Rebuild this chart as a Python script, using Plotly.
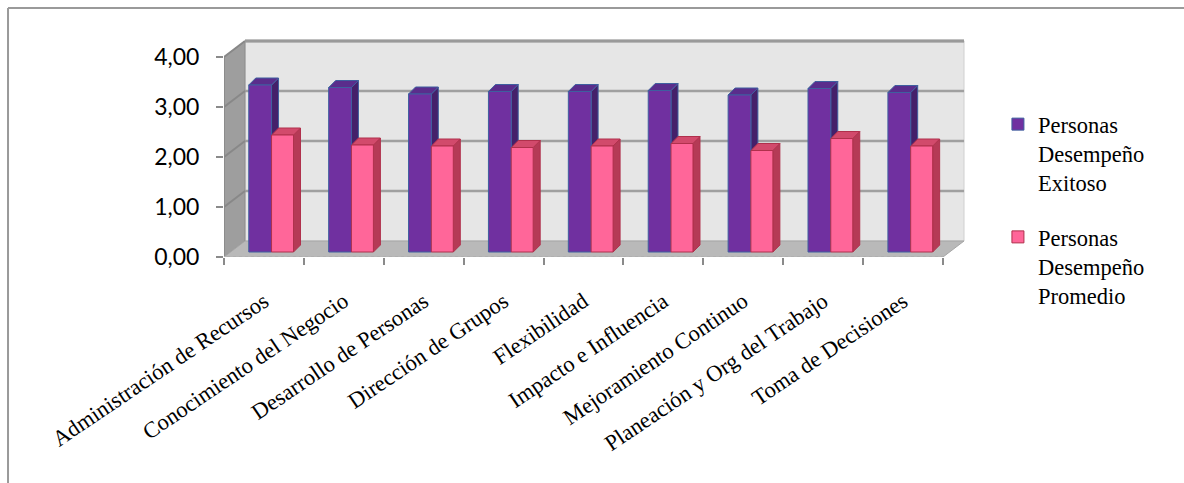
import plotly.graph_objects as go

categories = ["Administración de Recursos", "Conocimiento del Negocio", "Desarrollo de Personas",
              "Dirección de Grupos", "Flexibilidad", "Impacto e Influencia",
              "Mejoramiento Continuo", "Planeación y Org del Trabajo", "Toma de Decisiones"]
exitoso = [3.34, 3.29, 3.16, 3.21, 3.21, 3.23, 3.14, 3.27, 3.19]
promedio = [2.34, 2.14, 2.12, 2.09, 2.12, 2.17, 2.03, 2.27, 2.12]
series_names = ["Personas<br>Desempeño<br>Exitoso", "Personas<br>Desempeño<br>Promedio"]

# styling / geometry (not data)
PX_X = 79.9   # px per category
PX_Y = 50.0   # px per unit
L, B = 224, 226
YMAX = 4.4
XMAX = 8.8
W_PLOT = (XMAX + 0.5) * PX_X
H_PLOT = YMAX * PX_Y
WALL_DX = 21 / PX_X
WALL_DY = 16 / PX_Y
BAR_DX = 7 / PX_X
BAR_DY = 7 / PX_Y
BASE = 5 / PX_Y
SERIF = "Liberation Serif"

x = list(range(len(categories)))

purple = dict(front="#7030A0", line="#3F5F9F", side="#45206A", top="#5A2D8C")
pink = dict(front="#FF6699", line="#B0304C", side="#B53A56", top="#D24A6C")

fig = go.Figure()
specs = [(exitoso, series_names[0], purple, -0.19, 0.285), (promedio, series_names[1], pink, 0.095, 0.275)]
for i, (vals, name, col, off, wid) in enumerate(specs):
    fig.add_trace(go.Bar(
        x=x, y=vals, base=[BASE] * len(vals), name=name, offset=off, width=wid,
        marker=dict(color=col["front"], line=dict(color=col["line"], width=1)),
        legendgroup=f"g{i}", hoverinfo="skip"))

shapes = []
# back wall
x0w, x1w = -0.5 + WALL_DX, len(categories) - 0.5 + WALL_DX
shapes.append(dict(type="rect", xref="x", yref="y", x0=x0w, x1=x1w, y0=WALL_DY, y1=4 + WALL_DY,
                   fillcolor="#E6E6E6", line=dict(color="#D0D0D0", width=1), layer="below"))
# left side wall
shapes.append(dict(type="path", xref="x", yref="y",
                   path=f"M -0.5,0 L {x0w},{WALL_DY} L {x0w},{4 + WALL_DY} L -0.5,4 Z",
                   fillcolor="#9E9E9E", line=dict(color="#8C8C8C", width=1), layer="below"))
# floor
xe = len(categories) - 0.5
shapes.append(dict(type="path", xref="x", yref="y",
                   path=f"M -0.5,0 L {xe},0 L {x1w},{WALL_DY} L {x0w},{WALL_DY} Z",
                   fillcolor="#B9B9B9", line=dict(color="#A5A5A5", width=1), layer="below"))
# gridlines on wall + side
for k in range(1, 5):
    shapes.append(dict(type="line", xref="x", yref="y", x0=x0w, x1=x1w, y0=k + WALL_DY, y1=k + WALL_DY,
                       line=dict(color="#A0A0A0", width=2.5), layer="below"))
    shapes.append(dict(type="line", xref="x", yref="y", x0=-0.5, x1=x0w, y0=k, y1=k + WALL_DY,
                       line=dict(color="#888888", width=2), layer="below"))
# wall top edge
shapes.append(dict(type="line", xref="x", yref="y", x0=x0w, x1=x1w, y0=4 + WALL_DY, y1=4 + WALL_DY,
                   line=dict(color="#9A9A9A", width=3), layer="below"))
# front edges
shapes.append(dict(type="line", xref="x", yref="y", x0=-0.5, x1=-0.5, y0=0, y1=4,
                   line=dict(color="#8A8A8A", width=1.5), layer="below"))
shapes.append(dict(type="line", xref="x", yref="y", x0=-0.5, x1=xe, y0=0, y1=0,
                   line=dict(color="#B8B8B8", width=1.5, dash="dot"), layer="below"))

# 3D faces of bars
for vals, name, col, off, wid in specs:
    for xi, v in zip(x, vals):
        a = xi + off
        b = a + wid
        top = BASE + v
        shapes.append(dict(type="path", xref="x", yref="y",
                           path=f"M {b},{BASE} L {b + BAR_DX},{BASE + BAR_DY} L {b + BAR_DX},{top + BAR_DY} L {b},{top} Z",
                           fillcolor=col["side"], line=dict(color=col["line"], width=1), layer="below"))
        shapes.append(dict(type="path", xref="x", yref="y",
                           path=f"M {a},{top} L {a + BAR_DX},{top + BAR_DY} L {b + BAR_DX},{top + BAR_DY} L {b},{top} Z",
                           fillcolor=col["top"], line=dict(color=col["line"], width=1), layer="below"))

# outer chart border
bx = (8 - L) / W_PLOT
by = (483 - B - 8) / H_PLOT
shapes.append(dict(type="line", xref="paper", yref="paper", x0=bx, x1=2, y0=by, y1=by,
                   line=dict(color="#9A9A9A", width=2)))
shapes.append(dict(type="line", xref="paper", yref="paper", x0=bx, x1=bx, y0=by, y1=-2,
                   line=dict(color="#9A9A9A", width=2)))

fig.update_layout(
    width=1184, height=483,
    margin=dict(l=L, r=1184 - L - W_PLOT, t=483 - B - H_PLOT, b=B),
    paper_bgcolor="white", plot_bgcolor="white",
    font=dict(family=SERIF, color="black"),
    separators=",.",
    shapes=shapes,
    showlegend=True,
    legend=dict(x=(998 - L) / W_PLOT, y=(483 - B - 103) / H_PLOT, xanchor="left", yanchor="top",
                font=dict(family=SERIF, size=22.5, color="black"),
                valign="top", tracegroupgap=22, bgcolor="rgba(0,0,0,0)"),
    xaxis=dict(range=[-0.5, XMAX], tickmode="array", tickvals=x, ticktext=categories,
               tickangle=-34, ticks="", showgrid=False, zeroline=False, showline=False,
               tickfont=dict(family=SERIF, size=22.5, color="black"),
               ticklabelstandoff=26,
               minor=dict(tick0=-0.5, dtick=1, ticks="outside", ticklen=7, tickcolor="#8A8A8A",
                          tickwidth=1.5, showgrid=False)),
    yaxis=dict(range=[0, YMAX], dtick=1, tick0=0, tickformat=".2f", ticks="outside", ticklen=7,
               tickcolor="#8A8A8A", tickwidth=1.5, showgrid=False, zeroline=False, showline=False,
               tickfont=dict(family="Lato", size=23, color="black"), ticklabelstandoff=12),
)

fig.write_html("out.html")
